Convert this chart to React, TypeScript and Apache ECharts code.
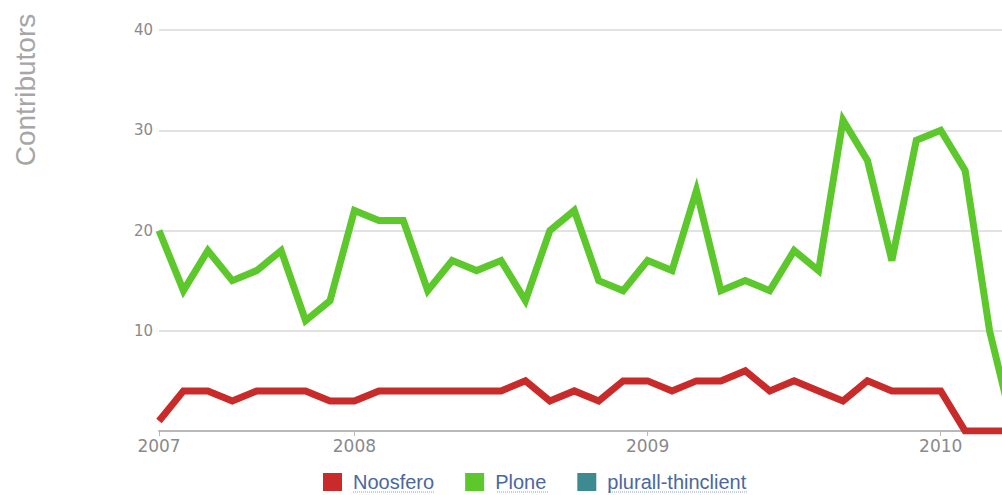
import React, { useEffect, useRef } from "react";
import * as echarts from "echarts";

const months: string[] = [
  "2007-05", "2007-06", "2007-07", "2007-08", "2007-09", "2007-10", "2007-11", "2007-12",
  "2008-01", "2008-02", "2008-03", "2008-04", "2008-05", "2008-06", "2008-07", "2008-08",
  "2008-09", "2008-10", "2008-11", "2008-12",
  "2009-01", "2009-02", "2009-03", "2009-04", "2009-05", "2009-06", "2009-07", "2009-08",
  "2009-09", "2009-10", "2009-11", "2009-12",
  "2010-01", "2010-02", "2010-03", "2010-04",
];

const yearLabels: Record<string, string> = {
  "2007-05": "2007",
  "2008-01": "2008",
  "2009-01": "2009",
  "2010-01": "2010",
};

const noosfero: number[] = [
  1, 4, 4, 3, 4, 4, 4, 3, 3, 4, 4, 4, 4, 4, 4, 5, 3, 4, 3, 5,
  5, 4, 5, 5, 6, 4, 5, 4, 3, 5, 4, 4, 4, 0, 0, 0,
];

const plone: number[] = [
  20, 14, 18, 15, 16, 18, 11, 13, 22, 21, 21, 14, 17, 16, 17, 13, 20, 22, 15, 14,
  17, 16, 24, 14, 15, 14, 18, 16, 31, 27, 17, 29, 30, 26, 10, 0,
];

const plurallThinclient: (number | null)[] = [];

const seriesNames = ["Noosfero", "Plone", "plurall-thinclient"];
const seriesColors = ["#c92a2a", "#5cc82c", "#3d8a91"];

const yTicks = { min: 0, max: 40, interval: 10 };

export default function App() {
  const ref = useRef<HTMLDivElement>(null);

  useEffect(() => {
    if (!ref.current) return;
    const chart = echarts.init(ref.current, undefined, { renderer: "svg" });
    const shownIdx = new Set(
      months.map((m, i) => (yearLabels[m] ? i : -1)).filter((i) => i >= 0)
    );
    const lineSeries = (name: string, data: (number | null)[], color: string) => ({
      name,
      type: "line",
      data,
      showSymbol: false,
      symbol: "none",
      color,
      lineStyle: { color, width: 7, join: "miter", miterLimit: 4 },
      itemStyle: { color },
    });
    const underline = (x1: number, x2: number) => ({
      type: "line",
      shape: { x1, y1: 492, x2, y2: 492 },
      style: { stroke: "#8fa0c4", lineWidth: 1, lineDash: [1, 1] },
    });
    chart.setOption({
      animation: false,
      backgroundColor: "#ffffff",
      grid: { left: 159, top: 30, right: 0, bottom: 64, containLabel: false },
      legend: {
        left: 318,
        top: 467,
        icon: "rect",
        itemWidth: 19,
        itemHeight: 18,
        itemGap: 31,
        data: seriesNames,
        textStyle: {
          fontFamily: "Liberation Sans, Arial, sans-serif",
          fontSize: 20,
          color: "#4b679f",
          padding: [0, 0, 0, 6],
        },
      },
      xAxis: {
        type: "category",
        data: months,
        boundaryGap: false,
        axisLine: { show: true, lineStyle: { color: "#b8b8b8", width: 2 } },
        axisTick: {
          show: true,
          length: 5,
          interval: (i: number) => shownIdx.has(i),
          lineStyle: { color: "#b8b8b8" },
        },
        axisLabel: {
          interval: (i: number) => shownIdx.has(i),
          formatter: (v: string) => yearLabels[v] || "",
          fontFamily: "DejaVu Sans, sans-serif",
          fontSize: 17,
          color: "#8a8a8a",
          margin: 6,
        },
        splitLine: { show: false },
      },
      yAxis: {
        type: "value",
        min: yTicks.min,
        max: yTicks.max,
        interval: yTicks.interval,
        axisLine: { show: false },
        axisTick: { show: false },
        axisLabel: {
          formatter: (v: number) => (v === 0 ? "" : String(v)),
          fontFamily: "DejaVu Sans, sans-serif",
          fontSize: 15,
          color: "#8a8a8a",
          margin: 6,
        },
        splitLine: { show: true, lineStyle: { color: "#e2e2e2", width: 2 } },
      },
      graphic: [
        {
          type: "text",
          x: 25,
          y: 90,
          rotation: Math.PI / 2,
          style: {
            text: "Contributors",
            fontFamily: "Liberation Sans, Arial, sans-serif",
            fontSize: 28,
            fill: "#a6a6a6",
            align: "center",
            verticalAlign: "middle",
          },
        },
        underline(353, 435),
        underline(497, 548),
        underline(608, 747),
      ],
      series: [
        lineSeries(seriesNames[2], plurallThinclient, seriesColors[2]),
        lineSeries(seriesNames[0], noosfero, seriesColors[0]),
        lineSeries(seriesNames[1], plone, seriesColors[1]),
      ],
    });
    return () => chart.dispose();
  }, []);

  return (
    <div
      ref={ref}
      style={{ position: "fixed", left: 0, top: 0, width: 1014, height: 495 }}
    />
  );
}
